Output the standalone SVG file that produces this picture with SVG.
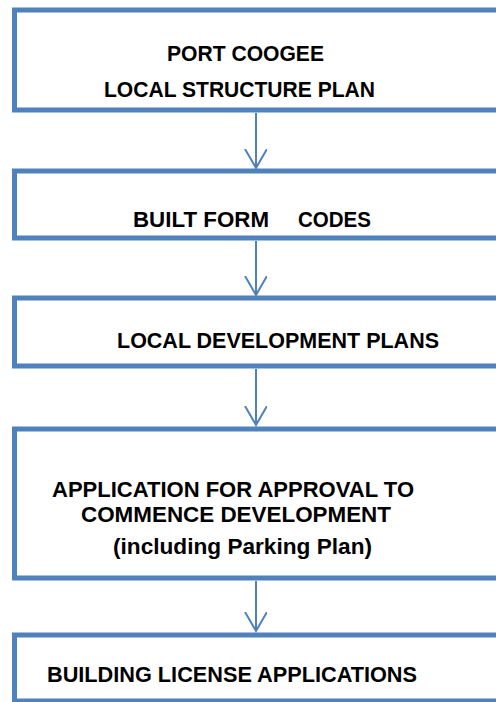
<svg xmlns="http://www.w3.org/2000/svg" width="496" height="702" viewBox="0 0 496 702">
<defs>
<style>
.box{fill:#ffffff;stroke:#4F81BD;stroke-width:5}
.t{font-family:"Liberation Sans","Lato",Arial,sans-serif;font-weight:bold;font-size:22px;fill:#000000}
.c{fill:none;stroke:#4F81BD;stroke-width:2}
</style>
<marker id="arr" markerWidth="24" markerHeight="24" refX="19" refY="11" orient="auto" markerUnits="userSpaceOnUse" viewBox="0 0 24 24">
<path d="M0,0 L19,11 L0,22" fill="none" stroke="#4F81BD" stroke-width="2"/>
</marker>
</defs>
<rect width="496" height="702" fill="#ffffff"/>
<g id="connectors">
<line class="c" x1="256" y1="113" x2="256" y2="168" marker-end="url(#arr)"/>
<line class="c" x1="256" y1="241" x2="256" y2="295" marker-end="url(#arr)"/>
<line class="c" x1="256" y1="369" x2="256" y2="425" marker-end="url(#arr)"/>
<line class="c" x1="256" y1="581" x2="256" y2="631" marker-end="url(#arr)"/>
</g>
<g id="node1">
<rect class="box" x="14.5" y="10" width="500" height="100"/>
<text class="t" x="167" y="61" textLength="157" lengthAdjust="spacingAndGlyphs">PORT COOGEE</text>
<text class="t" x="104" y="97" textLength="271" lengthAdjust="spacingAndGlyphs">LOCAL STRUCTURE PLAN</text>
</g>
<g id="node2">
<rect class="box" x="14.5" y="171" width="500" height="67"/>
<text class="t" x="133" y="227" textLength="136" lengthAdjust="spacingAndGlyphs">BUILT FORM</text>
<text class="t" x="298" y="227" textLength="73" lengthAdjust="spacingAndGlyphs">CODES</text>
</g>
<g id="node3">
<rect class="box" x="14.5" y="298" width="500" height="68"/>
<text class="t" x="117" y="348" textLength="322" lengthAdjust="spacingAndGlyphs">LOCAL DEVELOPMENT PLANS</text>
</g>
<g id="node4">
<rect class="box" x="14.5" y="429" width="500" height="149"/>
<text class="t" x="52" y="497" textLength="362" lengthAdjust="spacingAndGlyphs">APPLICATION FOR APPROVAL TO</text>
<text class="t" x="81" y="522" textLength="310" lengthAdjust="spacingAndGlyphs">COMMENCE DEVELOPMENT</text>
<text class="t" x="113" y="554" textLength="259" lengthAdjust="spacingAndGlyphs">(including Parking Plan)</text>
</g>
<g id="node5">
<rect class="box" x="14.5" y="635" width="500" height="66"/>
<text class="t" x="47" y="682" textLength="370" lengthAdjust="spacingAndGlyphs">BUILDING LICENSE APPLICATIONS</text>
</g>
</svg>
